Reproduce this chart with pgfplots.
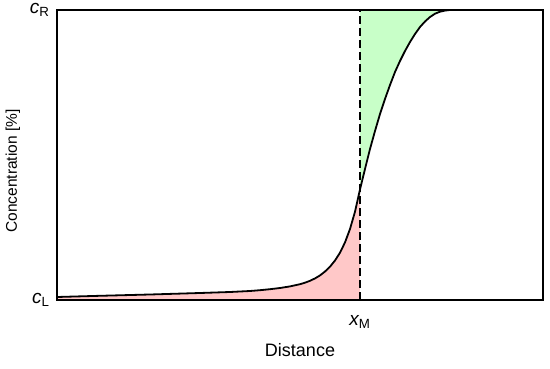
\documentclass[border=0pt]{standalone}
\usepackage{pgfplots}
\usepackage{pgfplotstable}
\pgfplotsset{compat=1.18}
\usepgfplotslibrary{fillbetween}
\usepackage{fontspec}
\setmainfont{Liberation Sans}
\pgfplotstableread{
x y
57 3
100 4.2
150 5.5
200 7.0
230 8.0
250 9.0
260 9.8
270 10.8
280 12.0
290 13.6
300 15.8
305 17.3
310 19.2
315 21.6
320 24.6
325 28.5
330 33.3
335 39.5
340 47.3
345 57.6
350 71.0
355 88.3
360 110.6
365 131
370 151
375 169
380 186
385 201
390 215
395 228
400 239
405 249
410 258
415 266
420 273
425 278.5
430 283
435 286.3
440 288.3
445 289.4
450 290
460 290
543 290
}\curvedata
\begin{document}
\begin{tikzpicture}
\begin{axis}[
  scale only axis,
  width=486bp, height=290bp,
  xmin=57, xmax=543, ymin=0, ymax=290,
  axis line style={line width=1.8bp},
  xtick={360}, xticklabels={{\itshape x}\textsubscript{M}},
  ytick={0,290}, yticklabels={{\itshape c}\textsubscript{L},{\itshape c}\textsubscript{R}},
  major tick length=0pt,
  tick label style={font=\fontsize{19bp}{21bp}\selectfont},
  xticklabel style={yshift=-12bp},
  yticklabel style={xshift=-4bp},
  xlabel={Distance},
  ylabel={Concentration [\%]},
  xlabel style={font=\fontsize{18bp}{20bp}\selectfont, yshift=-8bp},
  ylabel style={font=\fontsize{15.5bp}{18bp}\selectfont, yshift=3bp, xshift=-16bp},
  axis on top,
  clip=false,
]
\addplot[name path=curve, draw=none] table {\curvedata};
\addplot[name path=bot, draw=none] coordinates {(57,0)(543,0)};
\addplot[name path=top, draw=none] coordinates {(57,290)(543,290)};
\addplot[fill={rgb,255:red,255;green,200;blue,200}, draw=none] fill between[of=curve and bot, soft clip={domain=57:360}];
\addplot[fill={rgb,255:red,200;green,255;blue,200}, draw=none] fill between[of=curve and top, soft clip={domain=360:543}];
\addplot[black, line width=1.8bp, line join=round] table {\curvedata};
\addplot[black, line width=1.6bp, dash pattern=on 8bp off 4bp] coordinates {(360,0)(360,290)};
\path (rel axis cs:0,0) ++(-57bp,-69bp) coordinate (a) (rel axis cs:1,1) ++(7bp,10bp) coordinate (b);
\path (a) rectangle (b);
\end{axis}
\end{tikzpicture}
\end{document}
